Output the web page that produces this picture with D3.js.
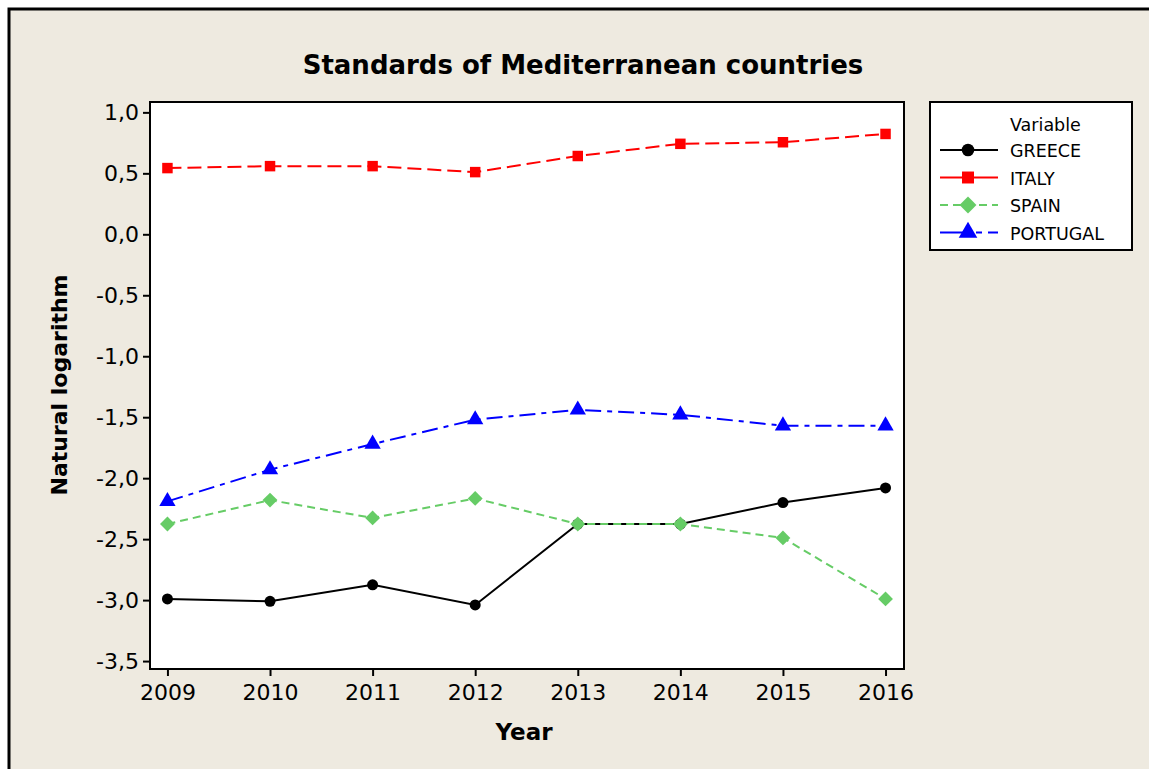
<!DOCTYPE html>
<html lang="en">
<head>
<meta charset="UTF-8">
<title>Standards of Mediterranean countries</title>
<script src="https://cdn.jsdelivr.net/npm/d3@7"></script>
<style>
    * { margin: 0; padding: 0; }
    body { background: #fff; }
    svg { display: block; }
    text { font-family: Tahoma, "DejaVu Sans", Verdana, sans-serif; }
</style>
</head>
<body>
<svg id="chart" width="1149" height="769"></svg>
<script>
    // data
    var years = [2009, 2010, 2011, 2012, 2013, 2014, 2015, 2016];
    var greece   = [-2.99, -3.01, -2.875, -3.04, -2.376, -2.376, -2.20, -2.08];
    var italy    = [0.543, 0.559, 0.559, 0.51, 0.642, 0.742, 0.755, 0.823];
    var spain    = [-2.376, -2.18, -2.326, -2.166, -2.376, -2.376, -2.49, -2.99];
    var portugal = [-2.19, -1.93, -1.72, -1.52, -1.44, -1.48, -1.57, -1.57];
    var yTicks = [1.0, 0.5, 0.0, -0.5, -1.0, -1.5, -2.0, -2.5, -3.0, -3.5];

    // square diamond (d3's own diamond is too tall)
    var symbolRhomb = {
        draw: function (context, size) {
            var r = Math.sqrt(size / 2);
            context.moveTo(0, -r);
            context.lineTo(r, 0);
            context.lineTo(0, r);
            context.lineTo(-r, 0);
            context.closePath();
        }
    };

    var series = [
        { name: "GREECE", values: greece, color: "#000000", dash: null, legendDash: null, symbol: d3.symbolCircle, size: 95 },
        { name: "ITALY", values: italy, color: "#ff0000", dash: "14,6", legendDash: null, symbol: d3.symbolSquare, size: 110 },
        { name: "SPAIN", values: spain, color: "#66cc66", dash: "8,5", legendDash: "8,5", symbol: symbolRhomb, size: 110 },
        { name: "PORTUGAL", values: portugal, color: "#0000ff", dash: "16,6,5,6", legendDash: "26,10,6,6", symbol: d3.symbolTriangle, size: 115 }
    ];

    var svg = d3.select("#chart");

    // background panel with its frame
    svg.append("rect")
        .attr("x", 9).attr("y", 9)
        .attr("width", 1200).attr("height", 800)
        .attr("fill", "#eeeae0")
        .attr("stroke", "#000").attr("stroke-width", 3);

    var plot = { left: 150, top: 102, right: 904, bottom: 669 };

    var x = d3.scaleLinear()
        .domain([2008.83, 2016.18])
        .range([plot.left, plot.right]);
    var y = d3.scaleLinear()
        .domain([-3.565, 1.085])
        .range([plot.bottom, plot.top]);

    svg.append("rect")
        .attr("x", plot.left).attr("y", plot.top)
        .attr("width", plot.right - plot.left)
        .attr("height", plot.bottom - plot.top)
        .attr("fill", "#fff")
        .attr("stroke", "#000").attr("stroke-width", 2);

    var fmt = function (d) { return d3.format(".1f")(d).replace(".", ",").replace("−", "-"); };

    var yAxis = svg.append("g")
        .attr("transform", "translate(" + plot.left + ",0)")
        .call(d3.axisLeft(y).tickValues(yTicks).tickFormat(fmt).tickSize(7).tickPadding(4));
    var xAxis = svg.append("g")
        .attr("transform", "translate(0," + plot.bottom + ")")
        .call(d3.axisBottom(x).tickValues(years).tickFormat(d3.format("d")).tickSize(7).tickPadding(8));

    [yAxis, xAxis].forEach(function (g) {
        g.select(".domain").remove();
        g.selectAll(".tick line").attr("stroke", "#000").attr("stroke-width", 2);
        g.selectAll(".tick text")
            .attr("fill", "#000")
            .style("font-size", "22px");
    });

    // title and axis labels
    svg.append("text")
        .attr("x", 583).attr("y", 74)
        .attr("text-anchor", "middle")
        .style("font-size", "26px").style("font-weight", "bold")
        .text("Standards of Mediterranean countries");

    svg.append("text")
        .attr("x", 524).attr("y", 740)
        .attr("text-anchor", "middle")
        .style("font-size", "23px").style("font-weight", "bold")
        .text("Year");

    svg.append("text")
        .attr("transform", "translate(67,385) rotate(-90)")
        .attr("text-anchor", "middle")
        .style("font-size", "22px").style("font-weight", "bold")
        .text("Natural logarithm");

    // lines and markers
    var line = d3.line()
        .x(function (d, i) { return x(years[i]); })
        .y(function (d) { return y(d); });

    series.forEach(function (s) {
        svg.append("path")
            .datum(s.values)
            .attr("d", line)
            .attr("fill", "none")
            .attr("stroke", s.color)
            .attr("stroke-width", 2)
            .attr("stroke-dasharray", s.dash);
    });

    series.forEach(function (s) {
        svg.selectAll(null)
            .data(s.values)
            .enter()
            .append("path")
            .attr("transform", function (d, i) { return "translate(" + x(years[i]) + "," + y(d) + ")"; })
            .attr("d", d3.symbol().type(s.symbol).size(s.size))
            .attr("fill", s.color);
    });

    // legend
    var legend = svg.append("g");
    legend.append("rect")
        .attr("x", 930).attr("y", 102)
        .attr("width", 202).attr("height", 148)
        .attr("fill", "#fff")
        .attr("stroke", "#000").attr("stroke-width", 2);
    legend.append("text")
        .attr("x", 1010).attr("y", 131)
        .style("font-size", "17.5px")
        .text("Variable");

    var rows = legend.selectAll("g.row")
        .data(series)
        .enter()
        .append("g")
        .attr("class", "row")
        .attr("transform", function (d, i) { return "translate(0," + (150 + i * 27.5) + ")"; });

    rows.append("line")
        .attr("x1", 940).attr("x2", 998)
        .attr("stroke", function (d) { return d.color; })
        .attr("stroke-width", 2)
        .attr("stroke-dasharray", function (d) { return d.legendDash; });
    rows.append("path")
        .attr("transform", "translate(968,0)")
        .attr("d", function (d) { return d3.symbol().type(d.symbol).size(d.size * 1.3)(); })
        .attr("fill", function (d) { return d.color; });
    rows.append("text")
        .attr("x", 1010).attr("y", 7)
        .style("font-size", "17.5px")
        .text(function (d) { return d.name; });
</script>
</body>
</html>
